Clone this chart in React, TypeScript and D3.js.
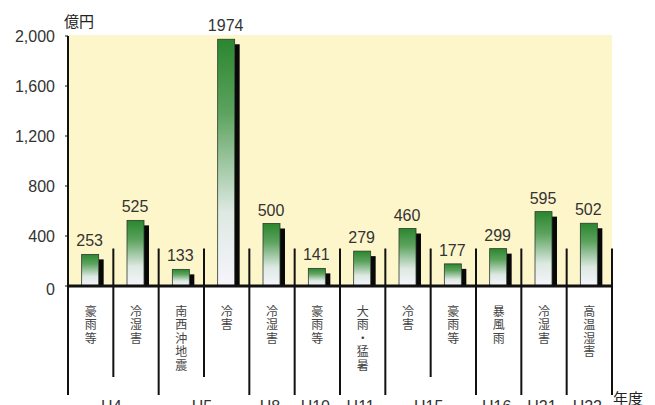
import * as d3 from 'd3'

// 農業災害被害額（億円）
const categories = ['豪雨等', '冷湿害', '南西沖地震', '冷害', '冷湿害', '豪雨等', '大雨・猛暑', '冷害', '豪雨等', '暴風雨', '冷湿害', '高温湿害']
const years = ['H4', 'H4', 'H5', 'H5', 'H8', 'H10', 'H11', 'H15', 'H15', 'H16', 'H21', 'H22']
const values = [253, 525, 133, 1974, 500, 141, 279, 460, 177, 299, 595, 502]
const yTicks = [0, 400, 800, 1200, 1600, 2000]

const width = 655
const height = 405
const margin = { top: 36, right: 43, bottom: 119, left: 68 }

const numFont = '"Liberation Sans", Arial, sans-serif'
const jpFont = '"Noto Sans CJK JP", sans-serif'

export default function App() {
  const x = d3.scaleBand<number>()
    .domain(d3.range(categories.length))
    .range([margin.left, width - margin.right])
    .padding(0)

  const y = d3.scaleLinear()
    .domain([0, 2000])
    .range([height - margin.bottom, margin.top])

  const bw = x.bandwidth()
  const y0 = y(0)

  // group consecutive years
  const groups: { label: string; start: number; end: number }[] = []
  years.forEach((yr, i) => {
    const last = groups[groups.length - 1]
    if (last && last.label === yr) last.end = i
    else groups.push({ label: yr, start: i, end: i })
  })
  const groupEdges = new Set<number>([0, ...groups.map(g => g.end + 1)])

  const fmt = d3.format(',')

  return (
    <svg width={width} height={height} style={{ position: 'absolute', left: 0, top: 0, background: '#fff' }}>
      <defs>
        <linearGradient id="barGrad" x1="0" y1="0" x2="0" y2="1">
          <stop offset="0%" stopColor="#2a862f" />
          <stop offset="30%" stopColor="#5da35f" />
          <stop offset="70%" stopColor="#dde9e2" />
          <stop offset="100%" stopColor="#f6f5fc" />
        </linearGradient>
      </defs>

      {/* plot background */}
      <rect x={margin.left} y={margin.top - 1} width={width - margin.left - margin.right} height={y0 - margin.top + 1} fill="#fef6cb" />

      {/* separators inside plot */}
      {d3.range(1, categories.length + 1).map(i => {
        const xx = i === categories.length ? width - margin.right : x(i)!
        return <line key={'s' + i} x1={xx} x2={xx} y1={y(300)} y2={y0} stroke="#111" strokeWidth={2} />
      })}

      {/* separators below axis */}
      {d3.range(0, categories.length + 1).map(i => {
        const xx = i === categories.length ? width - margin.right : x(i)!
        return <line key={'b' + i} x1={xx} x2={xx} y1={y0} y2={groupEdges.has(i) ? 395 : 377} stroke="#111" strokeWidth={2} />
      })}

      {/* bars */}
      {values.map((v, i) => {
        const cx = x(i)! + bw / 2
        const top = y(v)
        return (
          <g key={'bar' + i}>
            <rect x={cx + 8} y={top + 5} width={5} height={y0 - top - 5} fill="#080808" />
            <rect x={cx - 9} y={top} width={17} height={y0 - top} fill="url(#barGrad)" stroke="#2b3a2b" strokeWidth={0.8} />
            <text x={cx - 1} y={top - 8} textAnchor="middle" fontFamily={numFont} fontSize={16} fill="#333">{v}</text>
          </g>
        )
      })}

      {/* axes */}
      <line x1={margin.left} x2={margin.left} y1={margin.top} y2={y0} stroke="#111" strokeWidth={2} />
      <line x1={margin.left} x2={width - margin.right + 1} y1={y0} y2={y0} stroke="#111" strokeWidth={3} />
      {yTicks.map(t => (
        <g key={'t' + t}>
          <line x1={margin.left - 3} x2={margin.left} y1={y(t)} y2={y(t)} stroke="#111" strokeWidth={1} />
          <text x={55} y={y(t) + (t === 0 ? 3 : 0)} dy="0.36em" textAnchor="end" fontFamily={numFont} fontSize={16} fill="#333">{fmt(t)}</text>
        </g>
      ))}
      <text x={79} y={27} textAnchor="middle" fontFamily={jpFont} fontSize={15} fill="#222">億円</text>

      {/* vertical category labels */}
      {categories.map((c, i) => {
        const cx = x(i)! + bw / 2
        return (
          <text key={'c' + i} x={cx} y={305} style={{ writingMode: 'vertical-rl' }} letterSpacing={1.5}
            fontFamily={jpFont} fontSize={12} fill="#444">{c}</text>
        )
      })}

      {/* year labels */}
      {groups.map(g => {
        const cx = (x(g.start)! + x(g.end)! + bw) / 2
        return <text key={'g' + g.label} x={cx - 2} y={412} textAnchor="middle" fontFamily={numFont} fontSize={16} fill="#333">{g.label}</text>
      })}
      <text x={613} y={404} fontFamily={jpFont} fontSize={15} fill="#222">年度</text>
    </svg>
  )
}
